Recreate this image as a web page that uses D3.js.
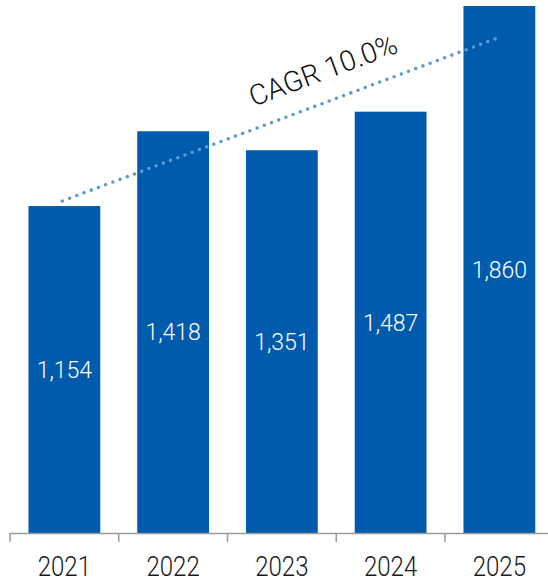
<!DOCTYPE html>
<html>
<head>
<meta charset="utf-8">
<script src="https://cdn.jsdelivr.net/npm/d3@7"></script>
<style>
  body { margin: 0; background: #fff; }
  text { font-family: Roboto, "Noto Sans", sans-serif; font-weight: 300; }
</style>
</head>
<body>
<div id="chart"></div>
<script>
// Chart data
var years = ["2021", "2022", "2023", "2024", "2025"];
var values = [1154, 1418, 1351, 1487, 1860];

// CAGR trend line: start and end values
var cagrYears = ["2021", "2025"];
var cagrValues = [1172, 1747];
var cagrLabel = "CAGR 10.0%";

// SVG area dimensions
var svg__Width = 548;
var svg__Height = 579;

var svg = d3.select("#chart")
  .append("svg")
  .attr("width", svg__Width)
  .attr("height", svg__Height);

// Band scale for the years (last band runs off the right edge)
var x__Scale = d3.scaleBand()
  .domain(years)
  .range([10, 553.75])
  .paddingInner(0.34)
  .paddingOuter(0.17);

var y__Scale = d3.scaleLinear()
  .domain([0, 1860])
  .range([533, 6]);

// Bars
svg.selectAll(".bar")
  .data(values)
  .enter()
  .append("rect")
  .attr("class", "bar")
  .attr("x", (d, i) => x__Scale(years[i]))
  .attr("y", d => y__Scale(d))
  .attr("width", x__Scale.bandwidth())
  .attr("height", d => y__Scale(0) - y__Scale(d))
  .attr("fill", "#005bac");

// Value labels in the middle of each bar
svg.selectAll(".value")
  .data(values)
  .enter()
  .append("text")
  .attr("class", "value")
  .attr("x", (d, i) => x__Scale(years[i]) + x__Scale.bandwidth() / 2)
  .attr("y", d => (y__Scale(d) + y__Scale(0)) / 2)
  .attr("dy", "0.36em")
  .attr("text-anchor", "middle")
  .attr("fill", "#fff")
  .attr("font-size", 23)
  .text(d => d3.format(",")(d));

// Bottom axis: ticks on band edges
var axis__Group = svg.append("g");
axis__Group.append("line")
  .attr("x1", 10).attr("x2", svg__Width)
  .attr("y1", 533.5).attr("y2", 533.5)
  .attr("stroke", "#9a9a9a").attr("stroke-width", 1.5);

var edges = years.map(y => x__Scale(y) - x__Scale.step() * x__Scale.paddingInner() / 2);
edges[0] = 10;
axis__Group.selectAll(".tick")
  .data(edges)
  .enter()
  .append("line")
  .attr("x1", d => d).attr("x2", d => d)
  .attr("y1", 533).attr("y2", 542)
  .attr("stroke", "#9a9a9a").attr("stroke-width", 1.5);

// Year labels (slightly condensed like the original)
axis__Group.selectAll(".year")
  .data(years)
  .enter()
  .append("text")
  .attr("transform", d => `translate(${x__Scale(d) + x__Scale.bandwidth() / 2}, 576) scale(0.86, 1)`)
  .attr("text-anchor", "middle")
  .attr("fill", "#1a1a1a")
  .attr("font-size", 28)
  .text(d => d);

// CAGR dotted line
var cx = cagrYears.map(y => x__Scale(y) + x__Scale.bandwidth() / 2 - 2);
var cy = cagrValues.map(v => y__Scale(v));
svg.append("line")
  .attr("x1", cx[0]).attr("y1", cy[0])
  .attr("x2", cx[1]).attr("y2", cy[1])
  .attr("stroke", "#5b9bd5")
  .attr("stroke-width", 3.6)
  .attr("stroke-linecap", "round")
  .attr("stroke-dasharray", "0 7.7");

var angle = Math.atan2(cy[1] - cy[0], cx[1] - cx[0]) * 180 / Math.PI;
svg.append("text")
  .attr("transform", `translate(323, 70) rotate(${angle})`)
  .attr("text-anchor", "middle")
  .attr("dy", "0.35em")
  .attr("fill", "#111")
  .attr("font-size", 28.5)
  .text(cagrLabel);
</script>
</body>
</html>
